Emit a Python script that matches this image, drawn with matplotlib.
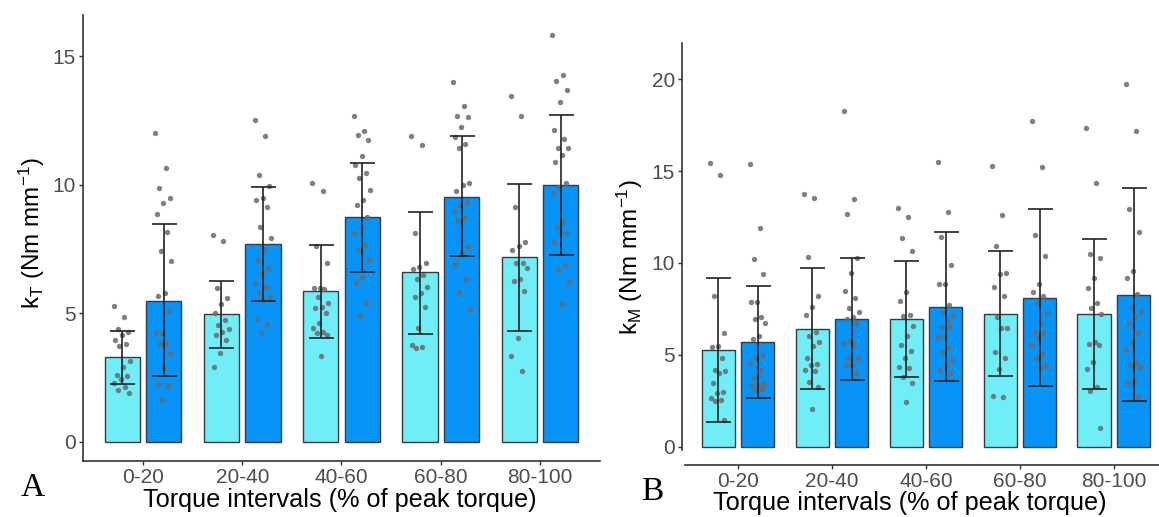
import numpy as np
import matplotlib
matplotlib.use("Agg")
import matplotlib.pyplot as plt

plt.rcParams['font.family'] = ['Liberation Sans', 'DejaVu Sans']
plt.rcParams['mathtext.fontset'] = 'custom'
plt.rcParams['mathtext.rm'] = 'Liberation Sans'
plt.rcParams['mathtext.it'] = 'Liberation Sans:italic'

categories = ["0-20", "20-40", "40-60", "60-80", "80-100"]

# Panel A (kT)
kT_light_mean = [3.30, 4.96, 5.86, 6.60, 7.19]
kT_light_lo = [2.27, 3.67, 4.06, 4.20, 4.30]
kT_light_hi = [4.32, 6.25, 7.66, 8.95, 10.04]
kT_dark_mean = [5.50, 7.70, 8.75, 9.53, 10.00]
kT_dark_lo = [2.58, 5.50, 6.60, 7.23, 7.27]
kT_dark_hi = [8.48, 9.92, 10.84, 11.88, 12.73]

kT_light_pts = [
    [5.29, 4.86, 4.39, 4.28, 4.16, 3.96, 3.81, 3.73, 3.15, 2.92, 2.6, 2.56, 2.45, 2.29, 2.14, 2.02, 1.9],
    [8.04, 7.81, 5.99, 5.6, 5.36, 5.01, 4.74, 4.55, 4.39, 4.28, 4.16, 3.96, 3.46, 2.92],
    [10.07, 9.75, 7.62, 6.96, 5.99, 5.99, 5.95, 5.64, 5.4, 5.25, 5.2, 5.0, 4.62, 4.43, 4.28, 4.24, 4.16, 3.34],
    [11.89, 11.54, 8.12, 6.96, 6.8, 6.72, 6.49, 6.33, 6.02, 5.79, 5.64, 5.25, 4.43, 3.77, 3.69, 3.65],
    [13.45, 12.67, 9.13, 7.77, 7.62, 7.46, 6.96, 6.96, 6.76, 6.33, 6.26, 5.87, 4.04, 3.34, 2.76],
]
kT_dark_pts = [
    [12.0, 10.65, 9.87, 9.48, 9.29, 8.86, 8.16, 7.42, 7.03, 5.79, 5.67, 5.09, 4.24, 4.24, 3.85, 3.81, 3.46, 2.88, 2.25, 2.18, 1.63],
    [12.5, 11.9, 10.38, 9.95, 9.48, 9.4, 9.13, 8.36, 7.93, 7.46, 7.07, 6.76, 6.57, 6.18, 6.02, 5.79, 5.64, 5.52, 4.78, 4.59, 4.24],
    [12.67, 12.09, 11.93, 11.74, 11.12, 10.77, 10.45, 10.26, 9.79, 9.4, 9.21, 8.74, 8.36, 8.12, 7.66, 7.46, 7.07, 6.41, 6.18, 5.4, 4.9],
    [13.99, 13.06, 12.67, 12.63, 12.24, 11.85, 11.58, 11.43, 10.07, 9.99, 9.75, 9.33, 9.21, 8.98, 8.74, 8.59, 7.58, 7.35, 6.92, 6.33, 5.83, 5.17],
    [15.82, 14.26, 14.03, 13.68, 13.21, 12.13, 11.78, 11.43, 11.43, 11.15, 10.88, 10.07, 9.91, 9.68, 8.55, 8.36, 8.12, 8.12, 7.77, 6.88, 6.68, 6.22, 5.36],
]

# Panel B (kM)
kM_light_mean = [5.26, 6.42, 6.93, 7.22, 7.22]
kM_light_lo = [1.36, 3.14, 3.78, 3.87, 3.14]
kM_light_hi = [9.20, 9.71, 10.10, 10.65, 11.32]
kM_dark_mean = [5.72, 6.93, 7.62, 8.11, 8.26]
kM_dark_lo = [2.63, 3.63, 3.59, 3.30, 2.49]
kM_dark_hi = [8.77, 10.29, 11.69, 12.94, 14.08]

kM_light_pts = [
    [15.43, 14.77, 8.2, 6.21, 5.48, 5.41, 4.81, 4.17, 4.14, 4.03, 3.45, 3.0, 2.9, 2.67, 2.54, 2.5, 1.45],
    [13.76, 13.52, 10.31, 8.22, 7.62, 7.17, 6.26, 6.03, 5.72, 5.5, 4.81, 4.5, 4.45, 4.18, 4.14, 3.54, 3.23, 2.04],
    [12.98, 12.52, 11.34, 10.67, 8.44, 7.95, 7.17, 7.11, 6.57, 6.03, 5.54, 5.23, 4.84, 4.32, 4.27, 3.81, 3.48, 2.45],
    [15.3, 12.6, 10.94, 9.44, 9.38, 8.69, 8.2, 7.08, 6.48, 6.48, 5.17, 4.81, 4.21, 2.76, 2.69],
    [17.35, 14.36, 10.49, 10.29, 9.18, 8.66, 7.81, 7.57, 7.22, 5.72, 5.59, 5.54, 4.61, 4.21, 3.23, 3.05, 1.03],
]
kM_dark_pts = [
    [15.37, 11.92, 10.23, 9.38, 7.89, 7.89, 7.08, 6.93, 6.75, 6.04, 5.85, 4.99, 4.81, 4.57, 4.18, 3.72, 3.41, 3.36, 3.3, 3.12, 3.09],
    [18.27, 13.5, 12.67, 10.29, 9.44, 8.48, 8.11, 7.53, 7.35, 7.08, 6.93, 6.72, 5.77, 5.63, 5.57, 4.81, 4.81, 4.45, 4.45, 4.0],
    [15.52, 12.78, 11.4, 9.89, 8.84, 8.84, 7.7, 7.35, 7.11, 6.86, 6.53, 6.53, 6.03, 5.96, 5.44, 5.17, 4.72, 4.45, 4.18, 4.0],
    [17.75, 15.21, 11.54, 10.38, 8.87, 8.44, 8.22, 7.81, 7.3, 6.72, 6.26, 6.21, 5.9, 5.54, 5.05, 4.84, 4.39, 4.32],
    [19.73, 17.2, 12.94, 11.7, 9.58, 9.2, 8.31, 7.62, 7.35, 7.08, 6.68, 6.17, 5.66, 5.26, 4.63, 4.45, 4.32, 3.63, 3.45, 2.72],
]

LIGHT = '#6FEEF8'
DARK = '#0893F6'
EDGE = '#3a3a3a'
PT = '#6a6a6a'
TICKC = '#4d4d4d'

W, H = 1159, 517
fig = plt.figure(figsize=(W / 100, H / 100), dpi=100)

OFF = 0.21
BW = 0.355


def jitter(n):
    # deterministic spread (golden-ratio sequence) for horizontal placement
    k = np.arange(n)
    return ((k * 0.6180339887) % 1.0 - 0.5) * 0.17


def draw(ax, lm, llo, lhi, dm, dlo, dhi, lpts, dpts):
    x = np.arange(len(categories))
    for xs, m, lo, hi, pts, col in [
        (x - OFF, lm, llo, lhi, lpts, LIGHT),
        (x + OFF, dm, dlo, dhi, dpts, DARK),
    ]:
        ax.bar(xs, m, width=BW, color=col, edgecolor=EDGE, linewidth=1.0, zorder=2)
        m = np.asarray(m); lo = np.asarray(lo); hi = np.asarray(hi)
        ax.errorbar(xs, m, yerr=[m - lo, hi - m], fmt='none', ecolor='#222222',
                    elinewidth=1.2, capsize=9, capthick=1.2, zorder=4)
        for xi, p in zip(xs, pts):
            p = np.asarray(p)
            ax.scatter(xi + jitter(len(p)), p, s=15, color=PT, alpha=0.85,
                       linewidths=0, zorder=3)
    ax.set_xticks(x)
    ax.set_xticklabels(categories)
    for s in ['top', 'right']:
        ax.spines[s].set_visible(False)
    for s in ['left', 'bottom']:
        ax.spines[s].set_color('#333333')
        ax.spines[s].set_linewidth(1.2)
    ax.tick_params(axis='both', colors='#333333', labelcolor=TICKC,
                   labelsize=15, length=3, width=1.0, pad=2)


# Panel A
axA = fig.add_axes([83 / W, 1 - 461 / H, (600 - 83) / W, (461 - 15) / H])
draw(axA, kT_light_mean, kT_light_lo, kT_light_hi, kT_dark_mean, kT_dark_lo, kT_dark_hi,
     kT_light_pts, kT_dark_pts)
axA.set_xlim(-0.605, 4.605)
axA.set_ylim(-0.74, 16.6)
axA.set_yticks([0, 5, 10, 15])

# Panel B
axB = fig.add_axes([682 / W, 1 - 465 / H, (W - 682) / W, (465 - 43) / H])
draw(axB, kM_light_mean, kM_light_lo, kM_light_hi, kM_dark_mean, kM_dark_lo, kM_dark_hi,
     kM_light_pts, kM_dark_pts)
axB.set_xlim(-0.596, 4.48)
axB.set_ylim(-1.0, 21.98)
axB.set_yticks([0, 5, 10, 15, 20])
axB.spines['left'].set_bounds(-0.18, 21.98)
axB.spines['bottom'].set_bounds(-0.56, 4.48)

# Axis titles
fig.text(32 / W, 1 - 233 / H, r'k$_\mathrm{T}$ (Nm mm$^{-1}$)', rotation=90,
         ha='center', va='center', fontsize=17.5, color='black')
fig.text(630 / W, 1 - 257 / H, r'k$_\mathrm{M}$ (Nm mm$^{-1}$)', rotation=90,
         ha='center', va='center', fontsize=17.5, color='black')
fig.text(340 / W, 1 - 500 / H, 'Torque intervals (% of peak torque)',
         ha='center', va='center', fontsize=18.2, color='black')
fig.text(910 / W, 1 - 503 / H, 'Torque intervals (% of peak torque)',
         ha='center', va='center', fontsize=18.2, color='black')

# Panel letters
fig.text(33 / W, 1 - 488 / H, 'A', family='Liberation Serif', fontsize=24,
         ha='center', va='center')
fig.text(652 / W, 1 - 492 / H, 'B', family='Liberation Serif', fontsize=24,
         ha='center', va='center')

fig.savefig('out.png', dpi=100)
